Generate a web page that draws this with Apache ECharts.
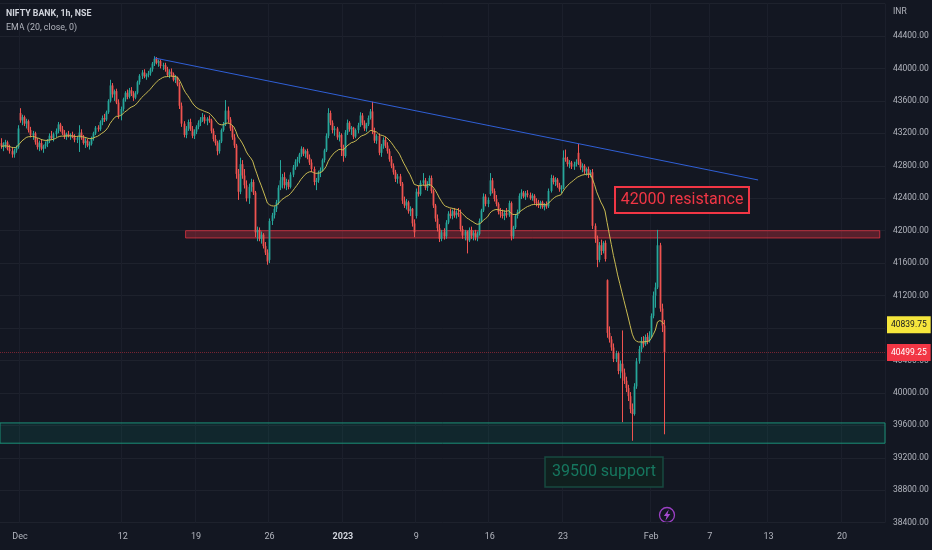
<!DOCTYPE html>
<html>
<head>
<meta charset="utf-8">
<title>NIFTY BANK, 1h, NSE</title>
<script src="https://cdn.jsdelivr.net/npm/echarts@6.0.0/dist/echarts.min.js"></script>
<style>
  html, body { margin: 0; padding: 0; background: #131722; }
  #chart { width: 932px; height: 550px; }
</style>
</head>
<body>
<div id="chart"></div>
<script>
// sessions on the time axis (NSE hourly bars), future days leave the empty space on the right
var tradingDays = [
  "2022-11-29", "2022-11-30",
  "2022-12-01", "2022-12-02", "2022-12-05", "2022-12-06", "2022-12-07", "2022-12-08", "2022-12-09",
  "2022-12-12", "2022-12-13", "2022-12-14", "2022-12-15", "2022-12-16", "2022-12-19", "2022-12-20",
  "2022-12-21", "2022-12-22", "2022-12-23", "2022-12-26", "2022-12-27", "2022-12-28", "2022-12-29",
  "2022-12-30",
  "2023-01-02", "2023-01-03", "2023-01-04", "2023-01-05", "2023-01-06", "2023-01-09", "2023-01-10",
  "2023-01-11", "2023-01-12", "2023-01-13", "2023-01-16", "2023-01-17", "2023-01-18", "2023-01-19",
  "2023-01-20", "2023-01-23", "2023-01-24", "2023-01-25", "2023-01-27", "2023-01-30", "2023-01-31",
  "2023-02-01", "2023-02-02", "2023-02-03", "2023-02-06", "2023-02-07", "2023-02-08", "2023-02-09",
  "2023-02-10", "2023-02-13", "2023-02-14", "2023-02-15", "2023-02-16", "2023-02-17", "2023-02-20",
  "2023-02-21", "2023-02-22"
];
var sessionHours = ["09:15", "10:15", "11:15", "12:15", "13:15", "14:15", "15:15"];
var firstDayFrom = "14:15"; // the chart opens on the last two bars of 29 Nov

// date labels of the time scale
var labelDays = ["2022-12-01", "2022-12-12", "2022-12-19", "2022-12-26", "2023-01-02", "2023-01-09",
  "2023-01-16", "2023-01-23", "2023-02-01", "2023-02-07", "2023-02-13", "2023-02-20"];
var labelTexts = ["Dec", "12", "19", "26", "2023", "9", "16", "23", "Feb", "7", "13", "20"];

// hourly bars: [open, high, low, close]
var barsNov = [
  [43080,43140,43010,43040],[43040,43090,42980,43060],
  [43060,43120,43020,43090],[43090,43110,42990,43010],[43010,43060,42950,42980],[42980,43030,42900,42940],
  [42940,43010,42900,42990],[42990,43050,42960,43030],[43030,43300,43010,43260]
];
var barsDec = [
  [43450,43510,43330,43360],[43360,43430,43300,43400],[43400,43420,43290,43320],[43320,43380,43260,43350],
  [43350,43370,43210,43240],[43240,43280,43150,43180],[43180,43230,43120,43200],
  [43200,43220,43060,43090],[43090,43140,43000,43030],[43030,43110,42980,43080],[43080,43120,42990,43010],
  [43010,43060,42960,43040],[43040,43100,43010,43070],[43070,43130,43030,43110],
  [43110,43200,43080,43170],[43170,43230,43120,43140],[43140,43210,43100,43190],[43190,43260,43150,43230],
  [43230,43340,43200,43310],[43310,43330,43220,43250],[43250,43290,43180,43200],
  [43200,43240,43130,43160],[43160,43210,43120,43190],[43190,43230,43150,43170],[43170,43200,43120,43180],
  [43180,43220,43140,43150],[43150,43190,43090,43120],[43120,43160,43080,43140],
  [43140,43300,42970,43210],[43210,43250,43120,43150],[43150,43180,43060,43080],[43080,43140,43020,43110],
  [43110,43130,43030,43050],[43050,43100,43000,43070],[43070,43160,43050,43140],
  [43140,43220,43110,43200],[43200,43290,43180,43270],[43270,43300,43220,43250],[43250,43360,43230,43340],
  [43340,43420,43300,43390],[43390,43440,43340,43370],[43370,43480,43350,43460],
  [43460,43620,43440,43600],[43600,43860,43580,43790],[43790,43820,43640,43680],[43680,43740,43600,43720],
  [43720,43750,43560,43580],[43580,43620,43380,43420],[43420,43530,43360,43500],
  [43500,43640,43470,43620],[43620,43720,43590,43700],[43700,43740,43620,43650],[43650,43760,43630,43730],
  [43730,43770,43660,43690],[43690,43720,43600,43640],[43640,43720,43620,43700],
  [43700,43850,43680,43830],[43830,43930,43800,43910],[43910,43980,43870,43950],[43950,43990,43880,43900],
  [43900,43940,43860,43920],[43920,43970,43890,43940],[43940,44010,43910,43990],
  [43990,44080,43960,44060],[44060,44150,44030,44120],[44120,44140,44050,44070],[44070,44110,44020,44090],
  [44090,44110,44000,44030],[44030,44070,43980,44040],[44040,44070,43960,43990],
  [43990,44020,43900,43920],[43920,43990,43880,43960],[43960,44000,43900,43930],[43930,43950,43840,43860],
  [43860,43920,43820,43890],[43890,43900,43780,43800],[43800,43830,43500,43540],
  [43540,43580,43280,43320],[43320,43350,43150,43180],[43180,43290,43140,43260],[43260,43370,43230,43340],
  [43340,43380,43230,43250],[43250,43290,43140,43170],[43170,43250,43130,43220],
  [43220,43300,43190,43280],[43280,43360,43250,43330],[43330,43400,43290,43370],[43370,43450,43340,43400],
  [43400,43430,43320,43350],[43350,43400,43300,43380],[43380,43420,43330,43360],
  [43360,43380,43200,43230],[43230,43260,43100,43130],[43130,43180,43050,43080],[43080,43110,42930,42980],
  [42980,43120,42950,43100],[43100,43260,43080,43240],[43240,43340,43220,43310],
  [43310,43610,43290,43480],[43480,43530,43330,43370],[43370,43400,43230,43260],[43260,43300,43120,43150],
  [43150,43190,43020,43050],[43050,43070,42640,42700],[42700,42760,42380,42480],
  [42480,42900,42450,42820],[42820,42870,42640,42680],[42680,42760,42520,42560],[42560,42620,42360,42400],
  [42400,42580,42330,42540],[42540,42640,42480,42600],[42600,42630,42440,42470],
  [42470,42490,41920,41980],[41980,42050,41870,42010],[42010,42040,41870,41900],[41900,41990,41840,41950],
  [41950,41970,41780,41810],[41810,41860,41700,41730],[41730,41770,41580,41620],
  [41640,42150,41600,42120],[42120,42220,42070,42190],[42190,42300,42150,42270],[42270,42380,42230,42350],
  [42350,42560,42320,42530],[42530,42870,42500,42620],[42620,42700,42520,42660],
  [42660,42720,42520,42560],[42560,42640,42500,42600],[42600,42630,42510,42540],[42540,42720,42520,42690],
  [42690,42810,42660,42780],[42780,42880,42750,42850],[42850,42910,42790,42880],
  [42880,42960,42830,42940],[42940,43040,42910,43010],[43010,43030,42920,42950],[42950,43000,42900,42980],
  [42980,43010,42880,42900],[42900,42940,42810,42840],[42840,42880,42720,42760],
  [42760,42790,42560,42600],[42600,42650,42500,42620],[42620,42740,42590,42720],[42720,42780,42660,42750],
  [42750,42890,42730,42870],[42870,43010,42840,42990],[42990,43200,42970,43170],
  [43170,43510,43140,43450],[43450,43480,43300,43330],[43330,43360,43200,43240],[43240,43290,43170,43260],
  [43260,43280,43120,43150],[43150,43220,43100,43180],[43180,43200,42920,43030]
];
var barsJan = [
  [43030,43060,42850,42920],[42920,43240,42900,43210],[43210,43370,43180,43330],[43330,43350,43220,43250],
  [43250,43290,43180,43270],[43270,43280,43130,43160],[43160,43260,43140,43240],
  [43240,43330,43200,43300],[43300,43460,43280,43420],[43420,43450,43300,43330],[43330,43360,43230,43260],
  [43260,43330,43220,43310],[43310,43420,43290,43390],[43390,43500,43370,43470],
  [43470,43590,43190,43230],[43230,43270,43080,43110],[43110,43190,43070,43170],[43170,43200,42930,42960],
  [42960,43070,42910,43040],[43040,43150,43010,43120],[43120,43160,43020,43050],
  [43050,43090,42950,42980],[42980,43010,42850,42880],[42880,42920,42770,42800],[42800,42830,42690,42720],
  [42720,42750,42600,42640],[42640,42700,42580,42670],[42670,42700,42550,42580],
  [42580,42600,42330,42370],[42370,42420,42280,42310],[42310,42390,42260,42350],[42350,42370,42210,42240],
  [42240,42300,42180,42270],[42270,42280,42050,42090],[42090,42140,41920,41980],
  [42180,42520,42150,42480],[42480,42560,42420,42450],[42450,42620,42430,42590],[42590,42710,42560,42620],
  [42620,42650,42500,42530],[42530,42610,42490,42580],[42580,42680,42550,42650],
  [42650,42680,42460,42490],[42490,42510,42280,42310],[42310,42330,42110,42150],[42150,42200,41990,42030],
  [42030,42080,41860,41900],[41900,42010,41870,41980],[41980,42030,41890,41930],
  [41930,42130,41900,42100],[42100,42240,42080,42210],[42210,42270,42150,42180],[42180,42260,42140,42240],
  [42240,42280,42160,42190],[42190,42250,42150,42220],[42220,42280,42170,42200],
  [42200,42260,41990,42020],[42020,42060,41900,41940],[41940,42010,41880,41990],[41990,42000,41720,41880],
  [41880,42040,41860,42010],[42010,42050,41900,41940],[41940,42000,41880,41970],
  [41970,42010,41880,41920],[41920,41990,41870,41960],[41960,42150,41940,42120],[42120,42270,42100,42250],
  [42250,42460,42230,42420],[42420,42450,42300,42330],[42330,42410,42290,42380],
  [42450,42710,42430,42620],[42620,42650,42460,42490],[42490,42520,42360,42390],[42390,42440,42300,42330],
  [42330,42350,42200,42230],[42230,42280,42160,42200],[42200,42260,42150,42180],
  [42180,42250,42130,42220],[42220,42280,42160,42190],[42190,42370,42170,42340],[42340,42360,41880,41930],
  [41930,42060,41900,42040],[42040,42200,42020,42180],[42180,42260,42150,42230],
  [42230,42460,42210,42430],[42430,42510,42390,42470],[42470,42490,42400,42420],[42420,42490,42380,42460],
  [42460,42500,42410,42440],[42440,42470,42380,42400],[42400,42460,42370,42430],
  [42430,42450,42330,42360],[42360,42400,42300,42340],[42340,42380,42280,42310],[42310,42370,42270,42350],
  [42350,42370,42270,42290],[42290,42340,42250,42320],[42320,42360,42270,42300],
  [42300,42520,42280,42490],[42490,42690,42470,42650],[42650,42680,42570,42600],[42600,42660,42550,42630],
  [42630,42650,42530,42560],[42560,42590,42480,42510],[42510,42560,42460,42530],
  [42530,42990,42510,42900],[42900,43000,42850,42880],[42880,42910,42790,42820],[42820,42870,42770,42840],
  [42840,42860,42760,42790],[42790,42850,42750,42820],[42820,42880,42790,42850],
  [42960,43070,42810,42850],[42850,42880,42750,42780],[42780,42830,42720,42800],[42800,42820,42700,42730],
  [42730,42780,42680,42760],[42760,42790,42650,42690],[42690,42750,42660,42720],
  [42720,42760,42020,42060],[42060,42090,41850,41900],[41900,41940,41550,41640],[41640,41860,41610,41820],
  [41820,41890,41700,41750],[41750,41870,41720,41850],[41850,41880,41620,41650],
  [41390,41400,40680,40740],[40740,40820,40620,40660],[40660,40700,40520,40560],[40560,40610,40380,40420],
  [40420,40520,40380,40490],[40490,40510,40230,40270],[40270,40400,40180,40360],
  [40360,40770,39640,40250],[40250,40300,40110,40150],[40150,40200,40010,40060],[40060,40100,39900,39960],
  [39960,40010,39750,39800],[39800,39870,39410,39740],[39740,40120,39720,40080],
  [40080,40430,40050,40390],[40390,40580,40360,40540],[40540,40690,40500,40640],[40640,40700,40560,40600],
  [40600,40720,40580,40690],[40690,40740,40600,40640],[40640,40760,40620,40710]
];
var barsFeb = [
  [40710,40980,40680,40950],[40950,41250,40920,41200],[41200,41360,41050,41300],[41300,42010,41280,41820],
  [41820,41850,41000,41040],[41040,41100,40750,40830],[40830,40900,39490,40499.25]
];

var lastClose = 40499.25;
var lastEma = 40839.75;
var resistanceZone = [42000, 41910];
var supportZone = [39630, 39380];
var resistanceFrom = "2022-12-16 11:15";
var resistanceTo = "2023-02-22 13:15";
var trendStart = ["2022-12-14 10:15", 44130];
var trendEnd = ["2023-02-10 11:15", 42625];

var UP = "#26a69a";
var DOWN = "#ef5350";
var TEXT = "#b2b5be";

// ----------------------------------------------------------------
var categories = [];
tradingDays.forEach(function (day, d) {
  sessionHours.forEach(function (h) {
    if (d === 0 && h < firstDayFrom) return;
    categories.push(day + " " + h);
  });
});

var bars = barsNov.concat(barsDec, barsJan, barsFeb);
// [slot, open, high, low, close]
var candleData = bars.map(function (b, i) {
  return [i, b[0], b[1], b[2], b[3]];
});

// EMA (20, close) as the indicator defines it
var emaData = [];
var k = 2 / 21;
bars.forEach(function (b, i) {
  var v = i === 0 ? b[3] : b[3] * k + emaData[i - 1] * (1 - k);
  emaData.push(v);
});
emaData = emaData.map(function (v) { return Math.round(v * 100) / 100; });

function labelFor(value) {
  if (value.slice(11) !== sessionHours[0]) return null;
  var i = labelDays.indexOf(value.slice(0, 10));
  return i < 0 ? null : labelTexts[i];
}
function isLabelSlot(index, value) {
  return labelFor(value) !== null;
}

// one hourly candle: wick + body, placed through the axes
function renderCandle(params, api) {
  var slot = api.value(0);
  var o = api.coord([slot, api.value(1)]);
  var h = api.coord([slot, api.value(2)]);
  var l = api.coord([slot, api.value(3)]);
  var c = api.coord([slot, api.value(4)]);
  var color = api.value(4) >= api.value(1) ? UP : DOWN;
  var x = Math.round(o[0]) + 0.5;
  var top = Math.min(o[1], c[1]);
  var height = Math.max(Math.abs(o[1] - c[1]), 1);
  return {
    type: "group",
    children: [
      { type: "line", shape: { x1: x, y1: h[1], x2: x, y2: l[1] }, style: { stroke: color, lineWidth: 1 } },
      { type: "rect", shape: { x: x - 0.9, y: top, width: 1.8, height: height }, style: { fill: color } },
    ],
  };
}

var myChart = echarts.init(document.getElementById("chart"));
var option = {
  animation: false,
  backgroundColor: "#131722",
  textStyle: { fontFamily: "Roboto, sans-serif" },
  grid: { left: 0, right: 47, top: 3.55, bottom: 27.3 },
  xAxis: {
    type: "category",
    data: categories,
    boundaryGap: true,
    axisLine: { show: false },
    axisTick: { show: false },
    axisLabel: {
      interval: isLabelSlot,
      color: TEXT,
      fontSize: 9,
      margin: 10,
      formatter: function (value) {
        var t = labelFor(value) || "";
        return t === "2023" ? "{y|2023}" : t;
      },
      rich: { y: { color: "#d1d4dc", fontSize: 9, fontWeight: "bold" } },
    },
    splitLine: {
      show: true,
      interval: isLabelSlot,
      lineStyle: { color: "#1b1f2b", width: 1 },
    },
  },
  yAxis: {
    type: "value",
    position: "right",
    min: 38400,
    max: 44800,
    interval: 400,
    axisLine: { show: false },
    axisTick: { show: false },
    axisLabel: {
      color: TEXT,
      fontSize: 8.5,
      margin: 8,
      align: "left",
      formatter: function (v) {
        return v >= 44800 ? "" : v.toFixed(2);
      },
    },
    splitLine: { lineStyle: { color: "#1e222d", width: 1 } },
  },
  series: [
    {
      type: "custom",
      name: "NIFTY BANK",
      data: candleData,
      encode: { x: 0, y: [1, 2, 3, 4] },
      renderItem: renderCandle,
      z: 2,
      markArea: {
        silent: true,
        data: [
          [
            {
              xAxis: resistanceFrom,
              yAxis: resistanceZone[0],
              itemStyle: {
                color: "rgba(242,54,69,0.3)",
                borderColor: "rgba(242,54,69,0.7)",
                borderWidth: 1,
              },
            },
            { xAxis: resistanceTo, yAxis: resistanceZone[1] },
          ],
          [
            {
              yAxis: supportZone[0],
              itemStyle: {
                color: "rgba(8,153,129,0.12)",
                borderColor: "#1b9077",
                borderWidth: 1,
              },
            },
            { yAxis: supportZone[1] },
          ],
        ],
      },
      markLine: {
        silent: true,
        symbol: ["none", "none"],
        data: [
          [
            {
              coord: trendStart,
              lineStyle: { color: "#2f5fd6", width: 1, type: "solid" },
              label: { show: false },
            },
            { coord: trendEnd },
          ],
          {
            yAxis: lastClose,
            lineStyle: { color: "rgba(242,54,69,0.45)", width: 1, type: "dotted" },
            label: {
              show: true,
              position: "end",
              distance: 2,
              formatter: lastClose.toFixed(2),
              backgroundColor: "#f23645",
              color: "#ffffff",
              fontSize: 8.5,
              padding: [4, 4, 4, 4],
            },
          },
        ],
      },
    },
    {
      type: "line",
      data: emaData,
      showSymbol: false,
      z: 3,
      lineStyle: { color: "#c9bb52", width: 1 },
      markLine: {
        silent: true,
        symbol: ["none", "none"],
        data: [
          {
            yAxis: lastEma,
            lineStyle: { color: "transparent", width: 0 },
            label: {
              show: true,
              position: "end",
              distance: 2,
              formatter: lastEma.toFixed(2),
              backgroundColor: "#f5e63c",
              color: "#131722",
              fontSize: 8.5,
              padding: [4, 4, 4, 4],
            },
          },
        ],
      },
    },
  ],
  graphic: [
    { type: "text", left: 6, top: 9, style: { text: "NIFTY BANK, 1h, NSE", fill: "#d1d4dc", font: "bold 8.8px Roboto" } },
    { type: "text", left: 6, top: 23, style: { text: "EMA (20, close, 0)", fill: TEXT, font: "8.9px Roboto" } },
    { type: "text", left: 893, top: 7, style: { text: "INR", fill: TEXT, font: "8.5px Roboto" } },
    {
      type: "rect",
      z: 10,
      shape: { x: 615, y: 187, width: 134, height: 26 },
      style: { fill: "#1d171e", stroke: "#f23645", lineWidth: 2 },
    },
    {
      type: "text",
      z: 11,
      x: 682,
      y: 200,
      style: { text: "42000 resistance", fill: "#f23645", font: "16px Roboto", align: "center", verticalAlign: "middle" },
    },
    {
      type: "rect",
      z: 10,
      shape: { x: 545, y: 457, width: 118, height: 30 },
      style: { fill: "#10201f", stroke: "#174a40", lineWidth: 1.5 },
    },
    {
      type: "text",
      z: 11,
      x: 604,
      y: 472,
      style: { text: "39500 support", fill: "#16775f", font: "16px Roboto", align: "center", verticalAlign: "middle" },
    },
    {
      type: "circle",
      shape: { cx: 667, cy: 515, r: 7.5 },
      style: { fill: "#131722", stroke: "#9b40c4", lineWidth: 1.3 },
    },
    {
      type: "polygon",
      shape: { points: [[668.8, 509.5], [663.8, 516], [666.6, 516], [665.4, 520.8], [670.3, 514], [667.5, 514]] },
      style: { fill: "#a64bd1" },
    },
  ],
};
myChart.setOption(option);
</script>
</body>
</html>
